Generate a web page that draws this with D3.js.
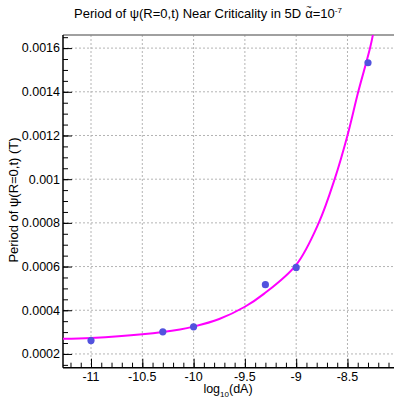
<!DOCTYPE html>
<html>
<head>
<meta charset="utf-8">
<script src="https://cdn.jsdelivr.net/npm/d3@7"></script>
<style>
  html, body { margin: 0; padding: 0; background: #fff; }
  svg { display: block; font-family: "Liberation Sans", Arial, sans-serif; }
</style>
</head>
<body>
<svg id="chart" width="394" height="403"></svg>
<script>
// Measured periods
const logDA = [-11, -10.3, -10, -9.3, -9, -8.3];
const period = [0.000261, 0.000301, 0.000324, 0.000517, 0.000596, 0.001533];

// Fitted curve, sampled
const fitX = [-11.273, -11, -10.5, -10.133, -10, -9.75, -9.5, -9.315, -9, -8.78, -8.625, -8.5, -8.395, -8.28, -8.24];
const fitY = [0.000269, 0.000273, 0.000290, 0.000312, 0.000325, 0.000360, 0.000416, 0.000475, 0.000608, 0.0008, 0.001, 0.0012, 0.0014, 0.0016, 0.00169];

// Axis ticks
const xMajor = [-11, -10.5, -10, -9.5, -9, -8.5];
const xMajorLabels = ["-11", "-10.5", "-10", "-9.5", "-9", "-8.5"];
const yMajor = [0.0002, 0.0004, 0.0006, 0.0008, 0.001, 0.0012, 0.0014, 0.0016];
const yMajorLabels = ["0.0002", "0.0004", "0.0006", "0.0008", "0.001", "0.0012", "0.0014", "0.0016"];

const svg = d3.select("#chart");
const L = 63, R = 400, T = 35, B = 367.7;

const x = d3.scaleLinear().domain([-11.273, -7.988]).range([L, R]);
const y = d3.scaleLinear().domain([0.000137, 0.00166]).range([B, T]);

svg.append("defs").append("clipPath").attr("id", "plotClip")
  .append("rect").attr("x", L).attr("y", T).attr("width", R - L).attr("height", B - T);

// Grid
const grid = svg.append("g").attr("stroke", "#b4b4b4").attr("stroke-width", 1).attr("stroke-dasharray", "2,2");
xMajor.forEach(v => grid.append("line").attr("x1", x(v)).attr("x2", x(v)).attr("y1", T).attr("y2", B));
yMajor.forEach(v => grid.append("line").attr("x1", L).attr("x2", R).attr("y1", y(v)).attr("y2", y(v)));

// Frame top
svg.append("line").attr("x1", L).attr("x2", R).attr("y1", T).attr("y2", T)
  .attr("stroke", "#808080").attr("stroke-width", 1.5);

// X axis: ticks point inward
const xAxis = d3.axisTop(x)
  .tickValues(d3.range(-11.2, -8.0, 0.1).map(v => +v.toFixed(1)))
  .tickSize(5).tickFormat("");
const gx = svg.append("g").attr("transform", `translate(0,${B})`).call(xAxis);
gx.select(".domain").remove();
gx.selectAll("line").attr("stroke", "#000");
const gxMajor = svg.append("g").attr("transform", `translate(0,${B})`)
  .call(d3.axisTop(x).tickValues(xMajor).tickSize(9).tickFormat(""));
gxMajor.select(".domain").remove();
gxMajor.selectAll("line").attr("stroke", "#000");
svg.append("line").attr("x1", L).attr("x2", R).attr("y1", B).attr("y2", B)
  .attr("stroke", "#000").attr("stroke-width", 1.5);
svg.append("g").selectAll("text").data(xMajor).join("text")
  .attr("x", d => x(d)).attr("y", 381)
  .attr("text-anchor", "middle").attr("font-size", 12.5).attr("fill", "#000")
  .text((d, i) => xMajorLabels[i]);

// Y axis: ticks point inward
const yMinor = d3.range(0.00015, 0.00166, 0.00005).map(v => +v.toFixed(5));
const gy = svg.append("g").attr("transform", `translate(${L},0)`)
  .call(d3.axisRight(y).tickValues(yMinor).tickSize(5).tickFormat(""));
gy.select(".domain").remove();
gy.selectAll("line").attr("stroke", "#000");
const gyMajor = svg.append("g").attr("transform", `translate(${L},0)`)
  .call(d3.axisRight(y).tickValues(yMajor).tickSize(9).tickFormat(""));
gyMajor.select(".domain").remove();
gyMajor.selectAll("line").attr("stroke", "#000");
svg.append("line").attr("x1", L).attr("x2", L).attr("y1", T).attr("y2", B)
  .attr("stroke", "#000").attr("stroke-width", 1.5);
svg.append("g").selectAll("text").data(yMajor).join("text")
  .attr("x", 60).attr("y", d => y(d)).attr("dy", "0.35em")
  .attr("text-anchor", "end").attr("font-size", 12.5).attr("fill", "#000")
  .text((d, i) => yMajorLabels[i]);

// Fit curve
const fitData = fitX.map((v, i) => [v, fitY[i]]);
svg.append("path").datum(fitData)
  .attr("clip-path", "url(#plotClip)")
  .attr("fill", "none").attr("stroke", "#ff00ff").attr("stroke-width", 2)
  .attr("d", d3.line().x(d => x(d[0])).y(d => y(d[1])).curve(d3.curveCatmullRom.alpha(0.5)));

// Points
svg.append("g").selectAll("circle").data(logDA).join("circle")
  .attr("cx", d => x(d)).attr("cy", (d, i) => y(period[i]))
  .attr("r", 3.6).attr("fill", "#5252de");

// Title, built piecewise so the tilde sits over the alpha
const tg = svg.append("g");
const t1 = tg.append("text").attr("x", 0).attr("y", 18).attr("font-size", 13).attr("fill", "#000")
  .text("Period of ψ(R=0,t) Near Criticality in 5D");
const w1 = t1.node().getComputedTextLength() + 4;
const ta = tg.append("text").attr("x", w1).attr("y", 18).attr("font-size", 13).attr("fill", "#000").text("α");
const wa = ta.node().getComputedTextLength();
tg.append("text").attr("x", w1 + wa / 2).attr("y", 10).attr("text-anchor", "middle")
  .attr("font-size", 9).attr("fill", "#000").text("~");
const t2 = tg.append("text").attr("x", w1 + wa).attr("y", 18).attr("font-size", 13).attr("fill", "#000");
t2.append("tspan").text("=10");
t2.append("tspan").attr("font-size", 8).attr("dy", -5).text("-7");
const wTotal = w1 + wa + t2.node().getComputedTextLength();
tg.attr("transform", `translate(${208 - wTotal / 2},0)`);

// Axis titles
const xt = svg.append("text").attr("x", 228).attr("y", 393)
  .attr("text-anchor", "middle").attr("font-size", 12.5).attr("fill", "#000");
xt.append("tspan").text("log");
xt.append("tspan").attr("font-size", 8).attr("dy", 4).text("10");
xt.append("tspan").attr("dy", -4).text("(dA)");

svg.append("text").attr("transform", "translate(18,200) rotate(-90)")
  .attr("text-anchor", "middle").attr("font-size", 13).attr("fill", "#000")
  .text("Period of ψ(R=0,t) (T)");
</script>
</body>
</html>
